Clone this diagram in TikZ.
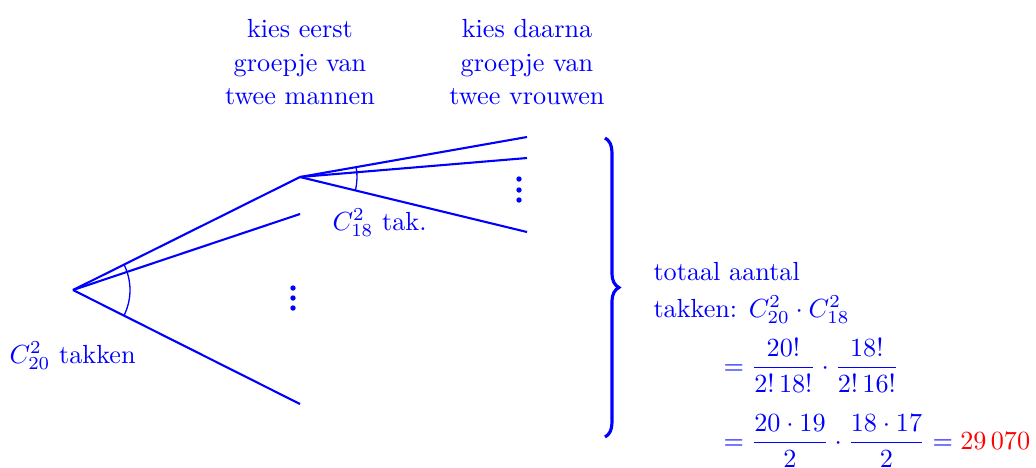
\documentclass[tikz,border=0pt]{standalone}
\usetikzlibrary{decorations.pathreplacing}
\begin{document}
\begin{tikzpicture}[x=0.3817pt,y=-0.3817pt,
  every node/.style={text=blue, inner sep=0pt},
  branch/.style={blue, line width=0.8pt},
  anglearc/.style={blue, line width=0.5pt},
  dotfill/.style={fill=blue},
  toplabel/.style={anchor=north, align=center, font=\fontsize{10}{12.8}\selectfont}]
\useasboundingbox (0,0) rectangle (1036,467);
% points of the tree
\coordinate (A) at (73,290);
\coordinate (B) at (300,177);
\coordinate (B2) at (300,214);
\coordinate (B3) at (300,404);
\coordinate (C1) at (527,137);
\coordinate (C2) at (527,158);
\coordinate (C3) at (527,232);
% branches
\draw[branch] (A) -- (B);
\draw[branch] (A) -- (B2);
\draw[branch] (A) -- (B3);
\draw[branch] (B) -- (C1);
\draw[branch] (B) -- (C2);
\draw[branch] (B) -- (C3);
% angle arcs
\draw[anglearc] (A) ++(-26.5:57) arc[start angle=-26.5, end angle=26.7, radius=57];
\draw[anglearc] (B) ++(-10.0:57) arc[start angle=-10.0, end angle=13.6, radius=57];
% vertical dots
\foreach \yy in {288,298,308} \fill[dotfill] (293,\yy) circle[radius=2.7];
\foreach \yy in {179,190,200} \fill[dotfill] (519,\yy) circle[radius=2.7];
% brace
\coordinate (BrT) at (605,138);
\coordinate (BrB) at (605,437);
\draw[blue, line width=1.2pt, decorate, decoration={brace, amplitude=5.3pt}] (BrT) -- (BrB);
% labels
\node[toplabel] (L1) at (300,19) {kies eerst\\groepje van\\twee mannen};
\node[toplabel] (L2) at (527,19) {kies daarna\\groepje van\\twee vrouwen};
\node[anchor=base west] (lab1) at (9,363) {$C^2_{20}$ takken};
\node[anchor=base west] (lab2) at (332,230) {$C^2_{18}$ tak.};
\node[anchor=base west] (t1) at (653,280) {totaal aantal};
\node[anchor=base west] (t2) at (653,317) {takken: $C^2_{20}\cdot C^2_{18}$};
\node[anchor=base west] (e1) at (723,374.5) {$\displaystyle =\frac{20!}{2!\,18!}\cdot\frac{18!}{2!\,16!}$};
\node[anchor=base west] (e2) at (723,449.5) {$\displaystyle =\frac{20\cdot19}{2}\cdot\frac{18\cdot17}{2}=\textcolor{red}{29\,070}$};
\end{tikzpicture}
\end{document}
